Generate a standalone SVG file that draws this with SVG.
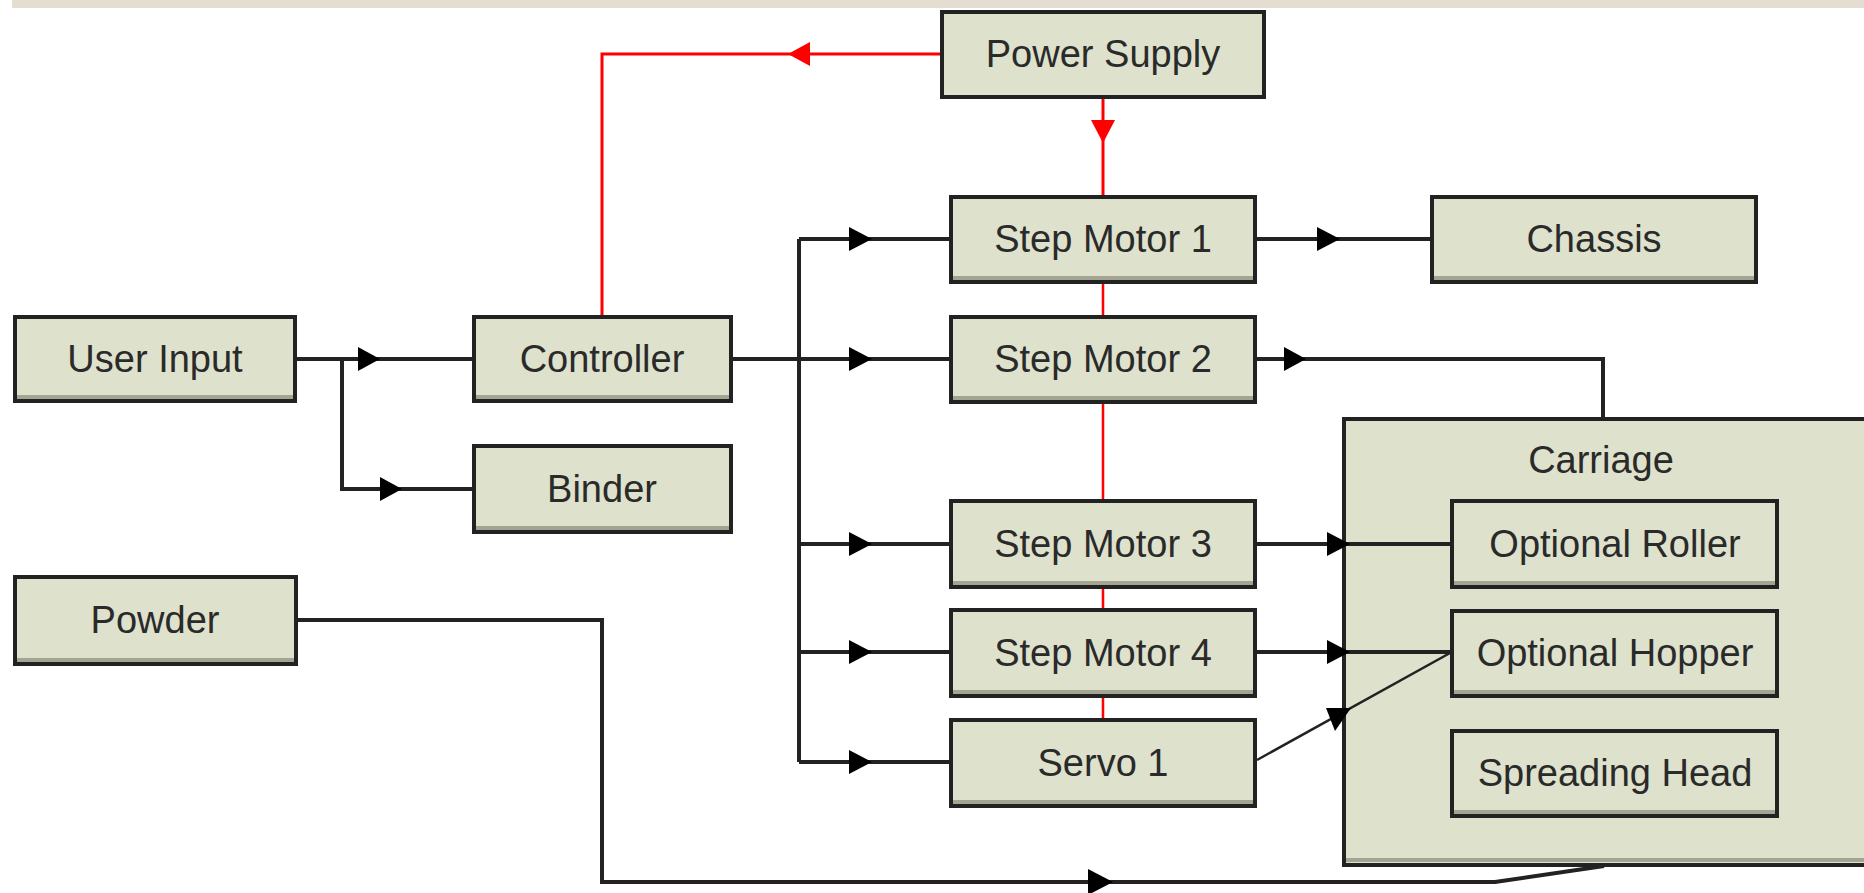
<svg xmlns="http://www.w3.org/2000/svg" width="1864" height="893" viewBox="0 0 1864 893">
<style>
.box{fill:#DEE1CB;stroke:#222;stroke-width:4}
.sh{fill:#A3A592}
.lbl{font-family:"Liberation Sans",Arial,sans-serif;font-size:38px;fill:#2a2a2a;text-anchor:middle}
.ln{fill:none;stroke:#222;stroke-width:4}
.red{fill:none;stroke:#FF0000;stroke-width:3}
.ar{fill:#000}
.rar{fill:#FF0000}
</style>
<rect x="12" y="0" width="1852" height="8" fill="#E3DDD2"/>
<g id="carriage">
<rect class="box" x="1344" y="419" width="530" height="446"/>
<rect class="sh" x="1346" y="858" width="520" height="4"/>
<text class="lbl" x="1601" y="473">Carriage</text>
</g>
<g id="connectors">
<path class="red" d="M940,54 H602 V315"/>
<polygon class="rar" points="788,54 810,42 810,66"/>
<path class="red" d="M1103,99 V195"/>
<polygon class="rar" points="1103,143 1091,120 1115,120"/>
<path class="red" d="M1103,284 V315 M1103,404 V499 M1103,589 V608 M1103,698 V718" style="stroke-width:2.5"/>
<path class="ln" d="M297,359 H472 M342,359 V489 H472"/>
<polygon class="ar" points="380,359 358,347 358,371"/>
<polygon class="ar" points="402,489 380,477 380,501"/>
<path class="ln" d="M733,359 H949 M799,239 V762 M799,239 H949 M799,544 H949 M799,652 H949 M799,762 H949"/>
<polygon class="ar" points="872,239 849,227 849,251"/>
<polygon class="ar" points="872,359 849,347 849,371"/>
<polygon class="ar" points="872,544 849,532 849,556"/>
<polygon class="ar" points="872,652 849,640 849,664"/>
<polygon class="ar" points="872,762 849,750 849,774"/>
<path class="ln" d="M1257,239 H1430"/>
<polygon class="ar" points="1340,239 1317,227 1317,251"/>
<path class="ln" d="M1257,359 H1603 V419"/>
<polygon class="ar" points="1306,359 1284,347 1284,371"/>
<path class="ln" d="M1257,544 H1452"/>
<polygon class="ar" points="1350,544 1327,532 1327,556"/>
<path class="ln" d="M1257,652 H1452"/>
<polygon class="ar" points="1350,652 1327,640 1327,664"/>
<path class="ln" d="M1257,760 L1450,653" style="stroke-width:2.5"/>
<polygon class="ar" points="1326,708 1351,708 1335,731"/>
<path class="ln" d="M298,620 H602 V882 H1495 L1604,866"/>
<polygon class="ar" points="1113,882 1088,869 1088,895"/>
</g>
<g id="power-supply"><rect class="box" x="942" y="12" width="322" height="85"/><text class="lbl" x="1103" y="67">Power Supply</text></g>
<g id="step-motor-1"><rect class="box" x="951" y="197" width="304" height="85"/><rect class="sh" x="953" y="276" width="300" height="4"/><text class="lbl" x="1103" y="252">Step Motor 1</text></g>
<g id="step-motor-2"><rect class="box" x="951" y="317" width="304" height="85"/><rect class="sh" x="953" y="396" width="300" height="4"/><text class="lbl" x="1103" y="372">Step Motor 2</text></g>
<g id="step-motor-3"><rect class="box" x="951" y="501" width="304" height="86"/><rect class="sh" x="953" y="581" width="300" height="4"/><text class="lbl" x="1103" y="557">Step Motor 3</text></g>
<g id="step-motor-4"><rect class="box" x="951" y="610" width="304" height="86"/><rect class="sh" x="953" y="690" width="300" height="4"/><text class="lbl" x="1103" y="666">Step Motor 4</text></g>
<g id="servo-1"><rect class="box" x="951" y="720" width="304" height="86"/><rect class="sh" x="953" y="800" width="300" height="4"/><text class="lbl" x="1103" y="776">Servo 1</text></g>
<g id="chassis"><rect class="box" x="1432" y="197" width="324" height="85"/><rect class="sh" x="1434" y="276" width="320" height="4"/><text class="lbl" x="1594" y="252">Chassis</text></g>
<g id="user-input"><rect class="box" x="15" y="317" width="280" height="84"/><rect class="sh" x="17" y="395" width="276" height="4"/><text class="lbl" x="155" y="372">User Input</text></g>
<g id="controller"><rect class="box" x="474" y="317" width="257" height="84"/><rect class="sh" x="476" y="395" width="253" height="4"/><text class="lbl" x="602" y="372">Controller</text></g>
<g id="binder"><rect class="box" x="474" y="446" width="257" height="86"/><rect class="sh" x="476" y="526" width="253" height="4"/><text class="lbl" x="602" y="502">Binder</text></g>
<g id="powder"><rect class="box" x="15" y="577" width="281" height="87"/><rect class="sh" x="17" y="658" width="277" height="4"/><text class="lbl" x="155" y="633">Powder</text></g>
<g id="optional-roller"><rect class="box" x="1452" y="501" width="325" height="86"/><rect class="sh" x="1454" y="581" width="321" height="4"/><text class="lbl" x="1615" y="557">Optional Roller</text></g>
<g id="optional-hopper"><rect class="box" x="1452" y="611" width="325" height="85"/><rect class="sh" x="1454" y="690" width="321" height="4"/><text class="lbl" x="1615" y="666">Optional Hopper</text></g>
<g id="spreading-head"><rect class="box" x="1452" y="731" width="325" height="85"/><rect class="sh" x="1454" y="810" width="321" height="4"/><text class="lbl" x="1615" y="786">Spreading Head</text></g>
</svg>
